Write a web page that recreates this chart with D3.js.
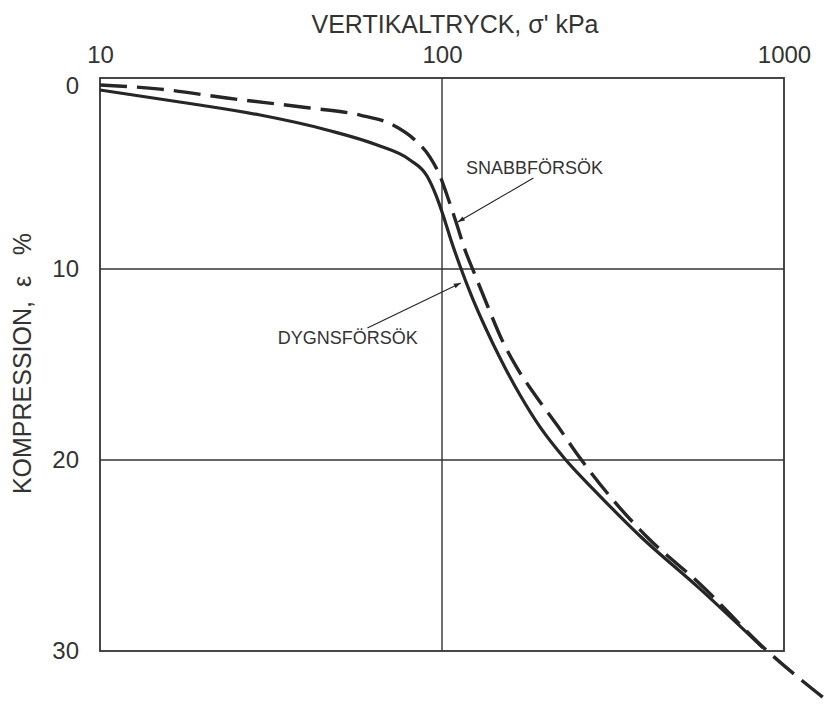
<!DOCTYPE html>
<html>
<head>
<meta charset="utf-8">
<script src="https://cdn.jsdelivr.net/npm/d3@7"></script>
<style>
    body { margin: 0; background: #fff; }
    text { font-family: "Liberation Sans", Arial, sans-serif; fill: #333; }
</style>
</head>
<body>
<div class="vis"></div>
<script>
const width = 830;
const height = 710;
const margin = { top: 78, right: 46, bottom: 59, left: 100 };

// Tick values
const xTicks = [10, 100, 1000];
const yTicks = [0, 10, 20, 30];
const xGrid = [100];
const yGrid = [10, 20];

// DYGNSFÖRSÖK (solid) - vertical pressure kPa / compression %
const dygnsPressure = [10, 18.7, 29.4, 46.1, 64.6, 80.6, 90.4, 96.0, 100.7, 106.2, 112.9, 122.4, 134.5, 147.8, 169.1, 193.4, 228.9, 284, 379.3, 568, 868];
const dygnsStrain = [0.63, 1.36, 1.94, 2.72, 3.51, 4.29, 5.13, 6.13, 7.17, 8.48, 9.84, 11.47, 13.14, 14.66, 16.6, 18.27, 19.95, 21.73, 23.98, 26.75, 29.84];

// SNABBFÖRSÖK (dashed)
const snabbPressure = [10, 15.0, 23.5, 41.1, 57.6, 71.9, 83.4, 92.2, 98.7, 104.1, 109.9, 116.8, 124.9, 136.3, 149.8, 165.7, 184.5, 216.9, 253.3, 316.2, 397.7, 568, 874, 1363];
const snabbStrain = [0.37, 0.58, 1.05, 1.57, 1.94, 2.46, 3.25, 4.14, 5.13, 6.28, 7.54, 9.01, 10.31, 11.99, 13.72, 15.18, 16.44, 18.17, 19.9, 22.09, 24.03, 26.49, 29.84, 32.72];

// Annotations: label position, arrow tail and arrow tip (pressure, strain)
const labels = ["SNABBFÖRSÖK", "DYGNSFÖRSÖK"];
const labelAt = [[117.5, 5.03], [33.1, 13.93]];
const arrowFrom = [[185, 5.24], [60.5, 13.09]];
const arrowTo = [[111.2, 7.54], [113.5, 10.73]];

const svg = d3.select(".vis").append("svg")
    .attr("width", width)
    .attr("height", height);

// Scales
const xScale = d3.scaleLog()
    .domain([10, 1000])
    .range([margin.left, width - margin.right]);

const yScale = d3.scaleLinear()
    .domain([0, 30])
    .range([margin.top, height - margin.bottom]);

const ink = "#262626";

// Arrow head
svg.append("defs").append("marker")
    .attr("id", "head")
    .attr("viewBox", "0 0 10 10")
    .attr("refX", 10)
    .attr("refY", 5)
    .attr("markerWidth", 14)
    .attr("markerHeight", 7)
    .attr("markerUnits", "userSpaceOnUse")
    .attr("orient", "auto")
    .append("path")
    .attr("d", "M0,1.5 L10,5 L0,8.5 Z")
    .attr("fill", ink);

// Grid lines
svg.selectAll("line.vgrid")
    .data(xGrid)
    .enter()
    .append("line")
    .attr("class", "vgrid")
    .attr("x1", d => xScale(d))
    .attr("x2", d => xScale(d))
    .attr("y1", yScale(0))
    .attr("y2", yScale(30))
    .attr("stroke", "#333")
    .attr("stroke-width", 1.4);

svg.selectAll("line.hgrid")
    .data(yGrid)
    .enter()
    .append("line")
    .attr("class", "hgrid")
    .attr("x1", xScale(10))
    .attr("x2", xScale(1000))
    .attr("y1", d => yScale(d))
    .attr("y2", d => yScale(d))
    .attr("stroke", "#333")
    .attr("stroke-width", 1.4);

// Frame
svg.append("rect")
    .attr("x", xScale(10))
    .attr("y", yScale(0))
    .attr("width", xScale(1000) - xScale(10))
    .attr("height", yScale(30) - yScale(0))
    .attr("fill", "none")
    .attr("stroke", "#333")
    .attr("stroke-width", 1.8);

// Axes
const xAxis = d3.axisTop(xScale)
    .tickValues(xTicks)
    .tickFormat(d3.format("d"))
    .tickSize(0)
    .tickPadding(15);

const yAxis = d3.axisLeft(yScale)
    .tickValues(yTicks)
    .tickSize(0)
    .tickPadding(21);

const gx = svg.append("g")
    .attr("transform", `translate(0, ${yScale(0)})`)
    .call(xAxis);

const gy = svg.append("g")
    .attr("transform", `translate(${xScale(10)}, 0)`)
    .call(yAxis);

[gx, gy].forEach(g => {
    g.select(".domain").remove();
    g.selectAll("text")
        .style("font-size", "24px")
        .attr("fill", "#333");
});
// the 0 label sits a little below the frame
gy.selectAll(".tick text").filter(d => d === 0).attr("dy", "0.65em");

// Axis titles
svg.append("text")
    .attr("x", 455)
    .attr("y", 33)
    .attr("text-anchor", "middle")
    .style("font-size", "25px")
    .text("VERTIKALTRYCK, σ' kPa");

svg.append("text")
    .attr("transform", `translate(31, ${yScale(15) - 1}) rotate(-90)`)
    .attr("text-anchor", "middle")
    .style("font-size", "25px")
    .attr("xml:space", "preserve")
    .text("KOMPRESSION,  ε   %");

// Line generator
const line = d3.line()
    .x(d => xScale(d[0]))
    .y(d => yScale(d[1]))
    .curve(d3.curveMonotoneX);

const dygns = dygnsPressure.map((p, i) => [p, dygnsStrain[i]]);
const snabb = snabbPressure.map((p, i) => [p, snabbStrain[i]]);

svg.append("path")
    .datum(dygns)
    .attr("d", line)
    .attr("fill", "none")
    .attr("stroke", ink)
    .attr("stroke-width", 3.2);

svg.append("path")
    .datum(snabb)
    .attr("d", line)
    .attr("fill", "none")
    .attr("stroke", ink)
    .attr("stroke-width", 3.4)
    .attr("stroke-dasharray", "27 10");

// Labels with arrows
labels.forEach((name, i) => {
    svg.append("text")
        .attr("x", xScale(labelAt[i][0]))
        .attr("y", yScale(labelAt[i][1]))
        .style("font-size", "18px")
        .text(name);

    svg.append("line")
        .attr("x1", xScale(arrowFrom[i][0]))
        .attr("y1", yScale(arrowFrom[i][1]))
        .attr("x2", xScale(arrowTo[i][0]))
        .attr("y2", yScale(arrowTo[i][1]))
        .attr("stroke", ink)
        .attr("stroke-width", 1.2)
        .attr("marker-end", "url(#head)");
});
</script>
</body>
</html>
